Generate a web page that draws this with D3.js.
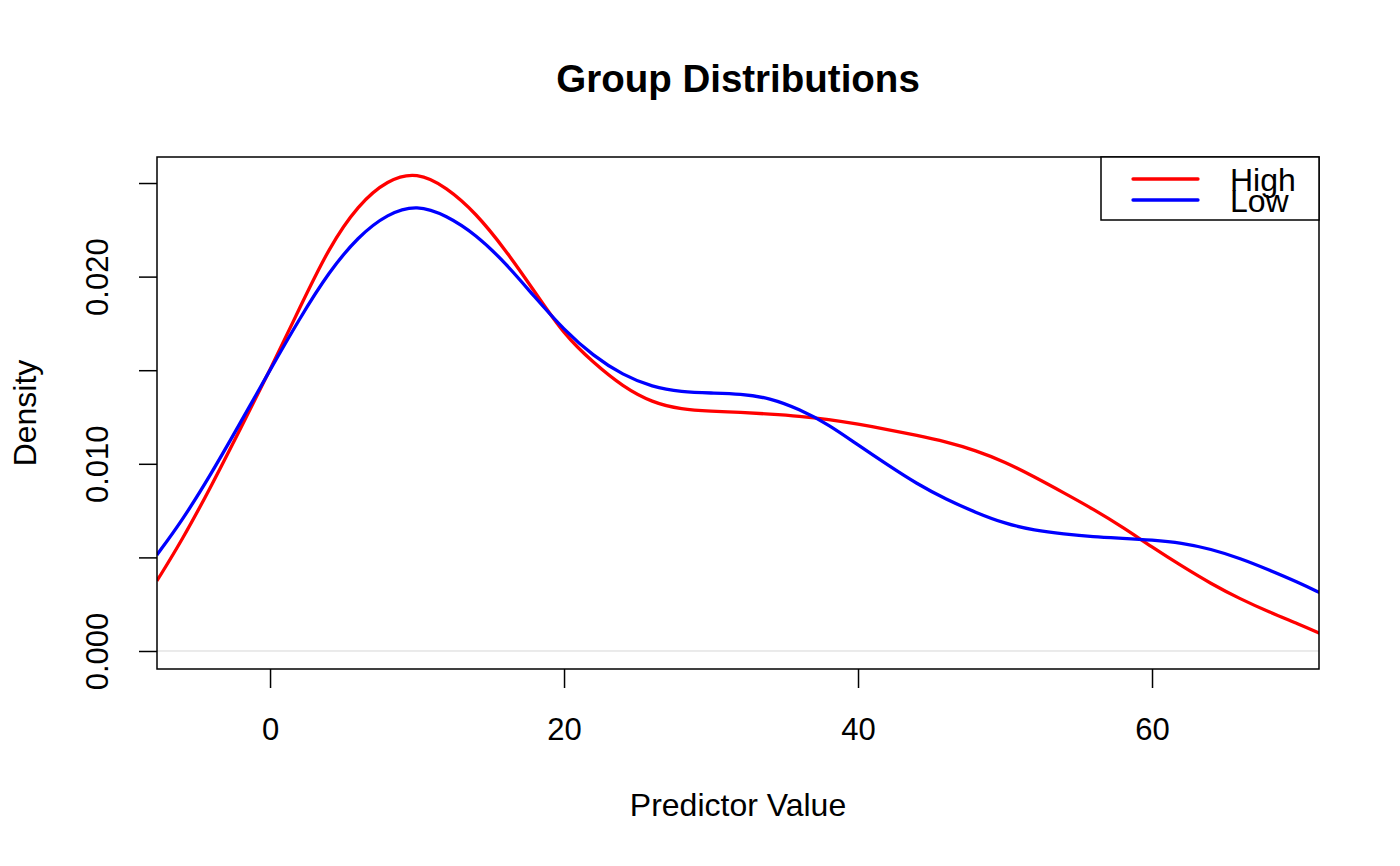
<!DOCTYPE html>
<html>
<head>
<meta charset="utf-8">
<script src="https://cdn.jsdelivr.net/npm/d3@7"></script>
<style>
  html, body { margin: 0; padding: 0; background: #fff; }
  svg { display: block; font-family: "Liberation Sans", Arial, Helvetica, sans-serif; }
</style>
</head>
<body>
<svg id="chart" width="1400" height="866"></svg>
<script>
// ---- data ----
const xGrid = [-7.7, -6, -4, -2, 0, 2, 4, 6, 8, 10, 12, 14, 16, 18, 20, 22, 24, 26, 28, 30,
  32, 34, 36, 38, 40, 42, 44, 46, 48, 50, 52, 54, 56, 58, 60, 62, 64, 66, 68, 70, 71.4];
const highDensity = [0.00374, 0.00590, 0.00880, 0.01190, 0.01501, 0.01830, 0.02155, 0.02385, 0.02518, 0.02560,
  0.02478, 0.02340, 0.02145, 0.01920, 0.01690, 0.01540, 0.01412, 0.01327, 0.01290, 0.01281,
  0.01275, 0.01266, 0.01255, 0.01237, 0.01212, 0.01183, 0.01152, 0.01117, 0.01072, 0.01010,
  0.00930, 0.00845, 0.00758, 0.00662, 0.00555, 0.00455, 0.00360, 0.00278, 0.00207, 0.00143, 0.00095];
const lowDensity = [0.00513, 0.00694, 0.00946, 0.01222, 0.01501, 0.01775, 0.02025, 0.02215, 0.02337, 0.02385,
  0.02327, 0.02225, 0.02075, 0.01891, 0.01715, 0.01576, 0.01474, 0.01410, 0.01384, 0.01378,
  0.01374, 0.01352, 0.01292, 0.01210, 0.01100, 0.00995, 0.00893, 0.00810, 0.00740, 0.00680,
  0.00645, 0.00625, 0.00610, 0.00602, 0.00593, 0.00578, 0.00545, 0.00495, 0.00432, 0.00365, 0.00312];
const seriesNames = ["High", "Low"];
const seriesColors = ["#ff0000", "#0000ff"];
const xTicks = [0, 20, 40, 60];
const yTicks = [0, 0.005, 0.010, 0.015, 0.020, 0.025];
const yTickLabels = ["0.000", "", "0.010", "", "0.020", ""];
const titleText = "Group Distributions";
const xLabel = "Predictor Value";
const yLabel = "Density";

// ---- layout ----
const box = { left: 157, top: 157, right: 1319, bottom: 669 };
const FONT = "'Liberation Sans', Arial, Helvetica, sans-serif";
const svg = d3.select("#chart");

const x = d3.scaleLinear().domain([-7.69, 71.36]).range([box.left, box.right]);
const y = d3.scaleLinear().domain([-0.000962, 0.02639]).range([box.bottom, box.top]);

svg.append("defs").append("clipPath").attr("id", "clip")
  .append("rect").attr("x", box.left).attr("y", box.top)
  .attr("width", box.right - box.left).attr("height", box.bottom - box.top);

// zero reference line
svg.append("line")
  .attr("x1", box.left).attr("x2", box.right)
  .attr("y1", y(0)).attr("y2", y(0))
  .attr("stroke", "#d6d6d6").attr("stroke-width", 1);

// density curves
const line = d3.line()
  .x(d => x(d[0])).y(d => y(d[1]))
  .curve(d3.curveBasis);

const series = [highDensity, lowDensity];
series.forEach((vals, i) => {
  svg.append("path")
    .datum(xGrid.map((xv, j) => [xv, vals[j]]))
    .attr("clip-path", "url(#clip)")
    .attr("fill", "none")
    .attr("stroke", seriesColors[i])
    .attr("stroke-width", 3.3)
    .attr("d", line);
});

// axes
const xAxis = d3.axisBottom(x).tickValues(xTicks).tickSize(19)
  .tickFormat(d3.format("d"));
const gx = svg.append("g").attr("transform", `translate(0,${box.bottom})`).call(xAxis);
gx.select(".domain").remove();
gx.selectAll(".tick line").attr("stroke", "#000").attr("stroke-width", 1.5);
gx.selectAll(".tick text")
  .attr("font-size", 31).attr("fill", "#000").attr("font-family", FONT)
  .attr("dy", null).attr("y", 71);

const yAxis = d3.axisLeft(y).tickValues(yTicks).tickSize(18)
  .tickFormat((d, i) => yTickLabels[i]);
const gy = svg.append("g").attr("transform", `translate(${box.left},0)`).call(yAxis);
gy.select(".domain").remove();
gy.selectAll(".tick line").attr("stroke", "#000").attr("stroke-width", 1.5);
gy.selectAll(".tick text")
  .attr("font-size", 31).attr("fill", "#000").attr("font-family", FONT)
  .attr("x", null).attr("dy", null)
  .attr("text-anchor", "middle")
  .attr("transform", "translate(-49,0) rotate(-90)");

// plot box
svg.append("rect")
  .attr("x", box.left).attr("y", box.top)
  .attr("width", box.right - box.left).attr("height", box.bottom - box.top)
  .attr("fill", "none").attr("stroke", "#000").attr("stroke-width", 1.5);

// title & labels
svg.append("text").attr("x", 738).attr("y", 92)
  .attr("text-anchor", "middle").attr("font-weight", "bold").attr("font-size", 38.5)
  .text(titleText);
svg.append("text").attr("x", 738).attr("y", 816)
  .attr("text-anchor", "middle").attr("font-size", 32)
  .text(xLabel);
svg.append("text")
  .attr("transform", "translate(36,413) rotate(-90)")
  .attr("text-anchor", "middle").attr("font-size", 32)
  .text(yLabel);

// legend
const lg = svg.append("g");
lg.append("rect").attr("x", 1101).attr("y", box.top)
  .attr("width", box.right - 1101).attr("height", 63)
  .attr("fill", "#fff").attr("stroke", "#000").attr("stroke-width", 1.5);
seriesNames.forEach((name, i) => {
  const ly = 179 + i * 21;
  lg.append("line").attr("x1", 1133).attr("x2", 1198)
    .attr("y1", ly).attr("y2", ly)
    .attr("stroke", seriesColors[i]).attr("stroke-width", 3.3)
    .attr("stroke-linecap", "round");
  lg.append("text").attr("x", 1230).attr("y", ly + 11.5)
    .attr("font-size", 32).text(name);
});
</script>
</body>
</html>
